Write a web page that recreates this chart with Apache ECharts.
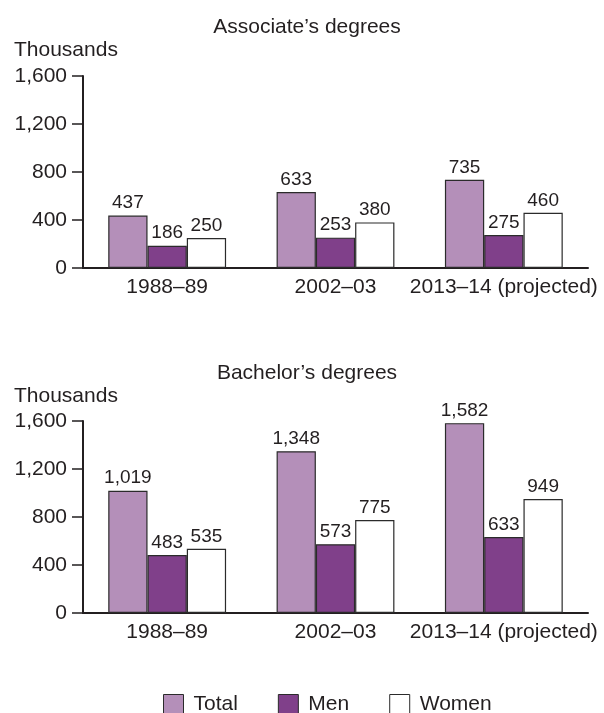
<!DOCTYPE html>
<html>
<head>
<meta charset="utf-8">
<script src="https://cdn.jsdelivr.net/npm/echarts@6/dist/echarts.min.js"></script>
<style>
html,body{margin:0;padding:0;background:#fff;}
#chart{width:604px;height:713px;}
</style>
</head>
<body>
<div id="chart"></div>
<script>
const categories = ['1988–89', '2002–03', '2013–14 (projected)'];
const seriesNames = ['Total', 'Men', 'Women'];
const associateTotal = [437, 633, 735];
const associateMen = [186, 253, 275];
const associateWomen = [250, 380, 460];
const bachelorTotal = [1019, 1348, 1582];
const bachelorMen = [483, 573, 633];
const bachelorWomen = [535, 775, 949];
const yTicks = [0, 400, 800, 1200, 1600];
const panelTitles = ["Associate’s degrees", "Bachelor’s degrees"];
const unitLabel = 'Thousands';

const FONT = 'Liberation Sans, Arial, Helvetica, sans-serif';
const INK = '#231f20';
const colors = ['#b48fb9', '#80408a', '#ffffff'];

function commas(v) {
  return String(v).replace(/\B(?=(\d{3})+(?!\d))/g, ',');
}

const chart = echarts.init(document.getElementById('chart'), null, {renderer: 'canvas'});

const grids = [
  {left: 83, right: 16, top: 76, height: 192},
  {left: 83, right: 16, top: 421, height: 192}
];

function xAxis(i) {
  return {
    type: 'category', gridIndex: i, data: categories,
    axisLine: {lineStyle: {color: INK, width: 2}},
    axisTick: {show: false},
    axisLabel: {color: INK, fontSize: 21, fontFamily: FONT, margin: 9,
      interval: 0, hideOverlap: false}
  };
}
function yAxis(i) {
  return {
    type: 'value', gridIndex: i, min: yTicks[0], max: yTicks[yTicks.length - 1],
    interval: yTicks[1] - yTicks[0],
    axisLine: {show: true, lineStyle: {color: INK, width: 2}},
    axisTick: {show: true, length: 11, lineStyle: {color: INK, width: 1.5}},
    splitLine: {show: false},
    axisLabel: {color: INK, fontSize: 21, fontFamily: FONT, margin: 16,
      formatter: v => commas(v)}
  };
}

const panels = [
  [associateTotal, associateMen, associateWomen],
  [bachelorTotal, bachelorMen, bachelorWomen]
];

const series = [];
panels.forEach((vals, gi) => {
  vals.forEach((arr, si) => {
    series.push({
      name: seriesNames[si], type: 'bar', xAxisIndex: gi, yAxisIndex: gi,
      data: arr, barGap: '0%', barCategoryGap: '30%',
      itemStyle: {color: colors[si], borderColor: '#2b2b2b', borderWidth: 1.2},
      label: {show: true, position: 'top', distance: 3, color: INK,
        fontSize: 19, fontFamily: FONT, formatter: p => commas(p.value)},
      emphasis: {disabled: true},
      animation: false
    });
  });
});

const titleY = [27, 373];
const unitY = [50, 396];
const graphics = [];
panelTitles.forEach((t, i) => {
  graphics.push({type: 'text', x: 307, y: titleY[i],
    style: {text: t, fontSize: 21, fontFamily: FONT, fill: INK, align: 'center', verticalAlign: 'middle'}});
  graphics.push({type: 'text', x: 14, y: unitY[i],
    style: {text: unitLabel, fontSize: 21, fontFamily: FONT, fill: INK, align: 'left', verticalAlign: 'middle'}});
});

chart.setOption({
  animation: false,
  grid: grids,
  xAxis: [xAxis(0), xAxis(1)],
  yAxis: [yAxis(0), yAxis(1)],
  legend: {
    data: seriesNames, left: 163, top: 694, orient: 'horizontal', padding: 0,
    itemWidth: 20, itemHeight: 20, itemGap: 40, icon: 'rect',
    selectedMode: false,
    textStyle: {color: INK, fontSize: 21, fontFamily: FONT, padding: [0, 0, 0, 5]},
    itemStyle: {borderColor: '#2b2b2b', borderWidth: 1}
  },
  graphic: graphics,
  series: series
});
</script>
</body>
</html>
